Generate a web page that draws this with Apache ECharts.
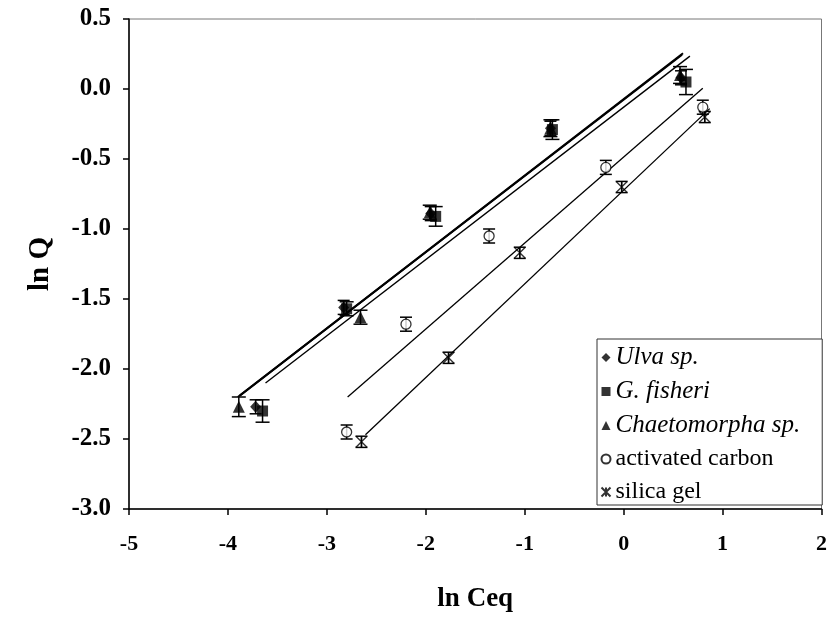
<!DOCTYPE html>
<html>
<head>
<meta charset="utf-8">
<script src="https://cdn.jsdelivr.net/npm/echarts@6/dist/echarts.min.js"></script>
<style>
  html, body { margin: 0; padding: 0; background: #fff; }
  #chart { width: 830px; height: 638px; }
</style>
</head>
<body>
<div id="chart"></div>
<script>
// Freundlich isotherm, linearised: ln Q against ln Ceq for five sorbents
const seriesNames = ['Ulva sp.', 'G. fisheri', 'Chaetomorpha sp.', 'activated carbon', 'silica gel'];

// points: [ln Ceq, ln Q]
const ulvaPts   = [[-3.72, -2.27], [-2.83, -1.56], [-1.95, -0.89], [-0.74, -0.28], [0.58, 0.08]];
const gfPts     = [[-3.65, -2.30], [-2.80, -1.57], [-1.90, -0.91], [-0.72, -0.29], [0.63, 0.05]];
const chaetoPts = [[-3.89, -2.27], [-2.66, -1.63], [-1.96, -0.88], [-0.74, -0.28], [0.57, 0.10]];
const carbonPts = [[-2.80, -2.45], [-2.20, -1.68], [-1.36, -1.05], [-0.18, -0.56], [0.80, -0.13]];
const silicaPts = [[-2.65, -2.52], [-1.77, -1.92], [-1.05, -1.17], [-0.02, -0.70], [0.82, -0.20]];

// standard deviations of ln Q
const ulvaErr   = [0.05, 0.05, 0.05, 0.05, 0.05];
const gfErr     = [0.08, 0.05, 0.07, 0.07, 0.09];
const chaetoErr = [0.07, 0.05, 0.05, 0.06, 0.06];
const carbonErr = [0.05, 0.05, 0.05, 0.05, 0.05];
const silicaErr = [0.04, 0.04, 0.04, 0.04, 0.04];

// fitted regression lines (end points)
const ulvaFit   = [[-3.88, -2.19], [0.60, 0.255]];
const chaetoFit = [[-3.90, -2.20], [0.59, 0.245]];
const gfFit     = [[-3.62, -2.10], [0.67, 0.235]];
const carbonFit = [[-2.79, -2.20], [0.80, 0.005]];
const silicaFit = [[-2.61, -2.47], [0.87, -0.14]];

const xTicks = { min: -5, max: 2, interval: 1 };
const yTicks = { min: -3, max: 0.5, interval: 0.5 };

const serif = 'Liberation Serif, Times New Roman, serif';

function withErr(pts, errs) {
  return pts.map((p, i) => [p[0], p[1], errs[i]]);
}

function errorBars(pts, errs, capHalf) {
  return {
    type: 'custom',
    name: 'err',
    silent: true,
    z: 3,
    data: withErr(pts, errs),
    encode: { x: 0, y: 1 },
    renderItem: function (params, api) {
      const x = api.value(0), y = api.value(1), e = api.value(2);
      const hi = api.coord([x, y + e]);
      const lo = api.coord([x, y - e]);
      const st = { stroke: '#000', lineWidth: 1.5 };
      return {
        type: 'group',
        children: [
          { type: 'line', shape: { x1: hi[0], y1: hi[1], x2: lo[0], y2: lo[1] }, style: st },
          { type: 'line', shape: { x1: hi[0] - capHalf, y1: hi[1], x2: hi[0] + capHalf, y2: hi[1] }, style: st },
          { type: 'line', shape: { x1: lo[0] - capHalf, y1: lo[1], x2: lo[0] + capHalf, y2: lo[1] }, style: st }
        ]
      };
    }
  };
}

function fitLine(pts, width) {
  return {
    type: 'line',
    name: 'fit',
    data: pts,
    showSymbol: false,
    silent: true,
    z: 1,
    lineStyle: { color: '#000', width: width },
    animation: false
  };
}

const starPath = 'path://M0,0L10,10M10,0L0,10M5,0L5,10';

const chart = echarts.init(document.getElementById('chart'), null, { renderer: 'canvas' });

chart.setOption({
  animation: false,
  backgroundColor: '#fff',
  grid: {
    left: 129, top: 19, right: 4, bottom: 129,
    show: true, borderColor: '#777', borderWidth: 1
  },
  xAxis: {
    type: 'value',
    min: xTicks.min, max: xTicks.max, interval: xTicks.interval,
    name: 'ln Ceq',
    nameLocation: 'middle',
    nameGap: 77,
    nameTextStyle: { fontFamily: serif, fontWeight: 'bold', fontSize: 27, color: '#000' },
    axisLine: { onZero: false, lineStyle: { color: '#000', width: 1.5 } },
    axisTick: { show: true, inside: false, length: 6, lineStyle: { color: '#000', width: 1.5 } },
    axisLabel: { margin: 24, fontFamily: serif, fontWeight: 'bold', fontSize: 22, color: '#000' },
    splitLine: { show: false }
  },
  yAxis: {
    type: 'value',
    min: yTicks.min, max: yTicks.max, interval: yTicks.interval,
    name: 'ln Q',
    nameLocation: 'middle',
    nameGap: 74,
    nameRotate: 90,
    nameTextStyle: { fontFamily: serif, fontWeight: 'bold', fontSize: 29, color: '#000' },
    axisLine: { onZero: false, lineStyle: { color: '#000', width: 1.5 } },
    axisTick: { show: true, inside: false, length: 6, lineStyle: { color: '#000', width: 1.5 } },
    axisLabel: {
      margin: 18, fontFamily: serif, fontWeight: 'bold', fontSize: 25, color: '#000',
      formatter: v => v.toFixed(1)
    },
    splitLine: { show: false }
  },
  legend: {
    orient: 'vertical',
    left: 597, top: 339,
    padding: [6, 22, 1, 2],
    itemGap: 9,
    itemWidth: 9, itemHeight: 9,
    backgroundColor: '#fff',
    borderColor: '#333',
    borderWidth: 1,
    textStyle: { fontFamily: serif, fontSize: 24, color: '#000' },
    data: [
      { name: seriesNames[0], textStyle: { fontStyle: 'italic', fontSize: 25 } },
      { name: seriesNames[1], textStyle: { fontStyle: 'italic', fontSize: 25 } },
      { name: seriesNames[2], textStyle: { fontStyle: 'italic', fontSize: 25 } },
      { name: seriesNames[3] },
      { name: seriesNames[4] }
    ]
  },
  series: [
    fitLine(ulvaFit, 2),
    fitLine(chaetoFit, 2),
    fitLine(gfFit, 1.4),
    fitLine(carbonFit, 1.3),
    fitLine(silicaFit, 1.3),
    errorBars(ulvaPts, ulvaErr, 6),
    errorBars(gfPts, gfErr, 7),
    errorBars(chaetoPts, chaetoErr, 7),
    errorBars(carbonPts, carbonErr, 6),
    errorBars(silicaPts, silicaErr, 6),
    {
      type: 'scatter', name: seriesNames[0], data: ulvaPts, z: 4,
      symbol: 'diamond', symbolSize: [11, 12],
      itemStyle: { color: '#000' }
    },
    {
      type: 'scatter', name: seriesNames[1], data: gfPts, z: 4,
      symbol: 'rect', symbolSize: 11,
      itemStyle: { color: '#000' }
    },
    {
      type: 'scatter', name: seriesNames[2], data: chaetoPts, z: 4,
      symbol: 'triangle', symbolSize: 12,
      itemStyle: { color: '#000' }
    },
    {
      type: 'scatter', name: seriesNames[3], data: carbonPts, z: 4,
      symbol: 'circle', symbolSize: 10,
      itemStyle: { color: '#fff', borderColor: '#000', borderWidth: 1.3 }
    },
    {
      type: 'scatter', name: seriesNames[4], data: silicaPts, z: 4,
      symbol: starPath, symbolSize: 11,
      itemStyle: { color: 'none', borderColor: '#000', borderWidth: 1.4 }
    }
  ]
});
</script>
</body>
</html>
